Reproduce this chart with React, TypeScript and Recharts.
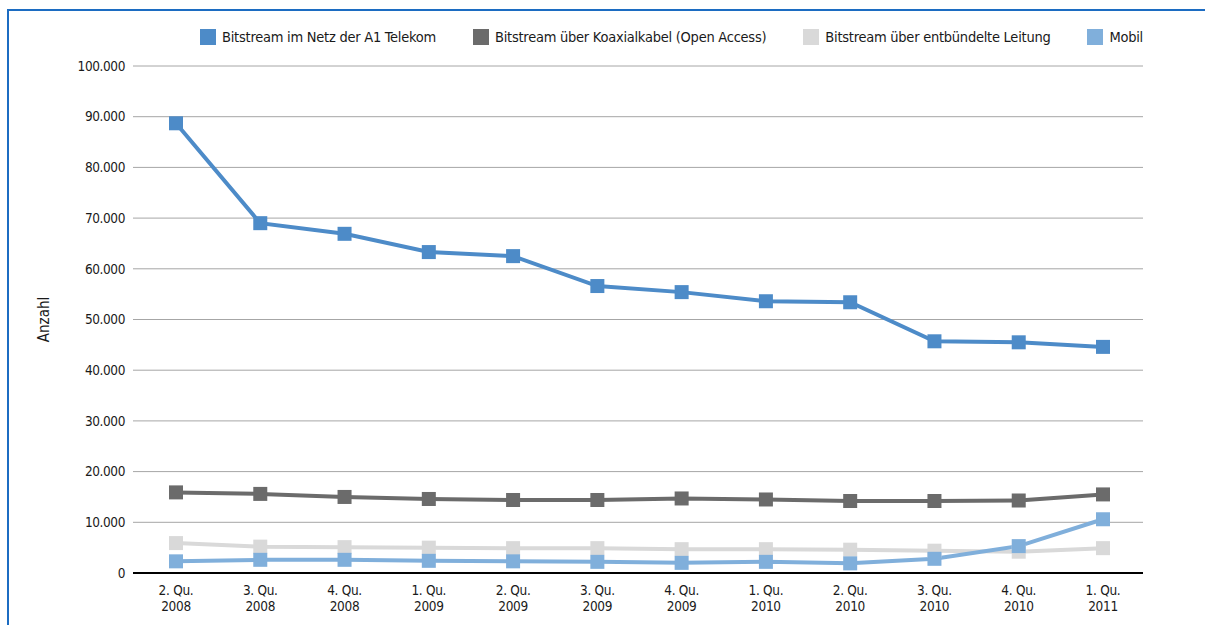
import { LineChart, Line, XAxis, YAxis, CartesianGrid } from 'recharts'

const quarters = ['2. Qu.', '3. Qu.', '4. Qu.', '1. Qu.', '2. Qu.', '3. Qu.', '4. Qu.', '1. Qu.', '2. Qu.', '3. Qu.', '4. Qu.', '1. Qu.']
const years = ['2008', '2008', '2008', '2009', '2009', '2009', '2009', '2010', '2010', '2010', '2010', '2011']

const a1Netz = [88700, 69000, 66900, 63300, 62500, 56600, 55400, 53600, 53400, 45700, 45500, 44600]
const koaxial = [15900, 15600, 15000, 14600, 14400, 14400, 14700, 14500, 14200, 14200, 14300, 15500]
const entbuendelt = [5900, 5200, 5100, 5000, 4900, 4900, 4700, 4700, 4600, 4400, 4200, 4900]
const mobil = [2300, 2600, 2600, 2400, 2300, 2200, 2000, 2200, 1900, 2800, 5300, 10600]

const yTicks = [0, 10000, 20000, 30000, 40000, 50000, 60000, 70000, 80000, 90000, 100000]

const series = [
  { key: 'a1', name: 'Bitstream im Netz der A1 Telekom', color: '#4d8bc8', values: a1Netz },
  { key: 'koax', name: 'Bitstream über Koaxialkabel (Open Access)', color: '#6b6b6b', values: koaxial },
  { key: 'entb', name: 'Bitstream über entbündelte Leitung', color: '#d9d9d9', values: entbuendelt },
  { key: 'mobil', name: 'Mobil', color: '#80afdb', values: mobil },
]

const data = quarters.map((q, i) => {
  const row: Record<string, string | number> = { label: `${q} ${years[i]}` }
  series.forEach((s) => (row[s.key] = s.values[i]))
  return row
})

const FONT = "'DejaVu Sans Condensed', 'Liberation Sans Narrow', sans-serif"

// de-AT style thousands separator
const fmt = (v: number) => String(v).replace(/\B(?=(\d{3})+(?!\d))/g, '.')

function QuarterTick({ x, y, payload }: any) {
  const i = payload.index
  return (
    <text x={x} y={y} textAnchor="middle" fill="#1a1a1a" fontSize={13.5} fontFamily={FONT} letterSpacing={-0.3}>
      <tspan x={x} dy={14}>{quarters[i]}</tspan>
      <tspan x={x} dy={16}>{years[i]}</tspan>
    </text>
  )
}

const squareDot = (color: string) => (p: any) => (
  <rect key={`d-${p.index}`} x={p.cx - 7} y={p.cy - 7} width={14} height={14} fill={color} />
)

export default function App() {
  return (
    <div style={{ position: 'absolute', left: 0, top: 0, width: 1205, height: 625, background: '#fff', fontFamily: FONT }}>
      <div
        style={{
          position: 'absolute',
          left: 7,
          top: 9,
          right: 0,
          bottom: 0,
          borderLeft: '2px solid #1c6cc2',
          borderTop: '2px solid #1c6cc2',
        }}
      />
      <div
        style={{
          position: 'absolute',
          top: 29,
          right: 62,
          display: 'flex',
          alignItems: 'center',
          gap: 37,
          fontSize: 14.5,
          letterSpacing: -0.25,
          color: '#1a1a1a',
        }}
      >
        {series.map((s) => (
          <div key={s.key} style={{ display: 'flex', alignItems: 'center' }}>
            <span style={{ display: 'inline-block', width: 16, height: 16, background: s.color, marginRight: 6 }} />
            <span>{s.name}</span>
          </div>
        ))}
      </div>
      <div style={{ position: 'absolute', left: 0, top: 0 }}>
        <LineChart width={1205} height={625} data={data} margin={{ top: 66, right: 62, bottom: 7, left: 30 }}>
          <CartesianGrid vertical={false} stroke="#a6a6a6" strokeWidth={1} />
          <XAxis
            dataKey="label"
            tick={<QuarterTick />}
            tickLine={false}
            axisLine={{ stroke: '#000', strokeWidth: 2 }}
            height={45}
            interval={0}
            padding={{ left: 43, right: 40 }}
          />
          <YAxis
            domain={[0, 100000]}
            ticks={yTicks}
            tickFormatter={fmt}
            tick={{ fontSize: 13.5, fill: '#1a1a1a', fontFamily: FONT, letterSpacing: -0.4 }}
            tickLine={false}
            axisLine={false}
            width={103}
            interval={0}
            label={{
              content: (props: any) => {
                const vb = props.viewBox || {}
                const cx = (vb.x ?? 30) + 14
                const cy = (vb.y ?? 66) + (vb.height ?? 507) / 2
                return (
                  <text
                    x={cx}
                    y={cy}
                    transform={`rotate(-90, ${cx}, ${cy})`}
                    textAnchor="middle"
                    dominantBaseline="central"
                    fontSize={15}
                    fill="#1a1a1a"
                    fontFamily={FONT}
                  >
                    Anzahl
                  </text>
                )
              },
            }}
          />
          {series.map((s) => (
            <Line
              key={s.key}
              dataKey={s.key}
              name={s.name}
              type="linear"
              stroke={s.color}
              strokeWidth={4}
              dot={squareDot(s.color)}
              activeDot={false}
              isAnimationActive={false}
            />
          ))}
        </LineChart>
      </div>
    </div>
  )
}
